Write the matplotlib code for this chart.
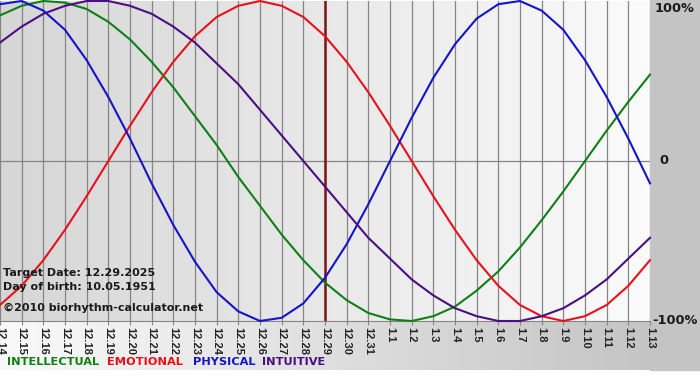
import numpy as np
import matplotlib
matplotlib.use("Agg")
import matplotlib.pyplot as plt

# ── data (one value per day, -1..1) ───────────────────────────────────
days = ["12.14", "12.15", "12.16", "12.17", "12.18", "12.19", "12.20", "12.21",
        "12.22", "12.23", "12.24", "12.25", "12.26", "12.27", "12.28", "12.29",
        "12.30", "12.31", "1.1", "1.2", "1.3", "1.4", "1.5", "1.6", "1.7",
        "1.8", "1.9", "1.10", "1.11", "1.12", "1.13"]

intellectual = [0.91, 0.97, 1.00, 0.99, 0.95, 0.87, 0.76, 0.62, 0.46, 0.28, 0.10,
                -0.10, -0.28, -0.46, -0.62, -0.76, -0.87, -0.95, -0.99, -1.00, -0.97,
                -0.91, -0.81, -0.69, -0.54, -0.37, -0.19, 0.00, 0.19, 0.37, 0.54]
emotional = [-0.90, -0.78, -0.62, -0.43, -0.22, 0.00, 0.22, 0.43, 0.62, 0.78, 0.90,
             0.97, 1.00, 0.97, 0.90, 0.78, 0.62, 0.43, 0.22, 0.00, -0.22,
             -0.43, -0.62, -0.78, -0.90, -0.97, -1.00, -0.97, -0.90, -0.78, -0.62]
physical = [0.98, 1.00, 0.94, 0.82, 0.63, 0.40, 0.14, -0.14, -0.40, -0.63, -0.82,
            -0.94, -1.00, -0.98, -0.89, -0.73, -0.52, -0.27, 0.00, 0.27, 0.52,
            0.73, 0.89, 0.98, 1.00, 0.94, 0.82, 0.63, 0.40, 0.14, -0.14]
intuitive = [0.74, 0.84, 0.92, 0.97, 1.00, 1.00, 0.97, 0.92, 0.84, 0.74, 0.61,
             0.48, 0.32, 0.16, 0.00, -0.16, -0.32, -0.48, -0.61, -0.74, -0.84,
             -0.92, -0.97, -1.00, -1.00, -0.97, -0.92, -0.84, -0.74, -0.61, -0.48]

target_day = "12.29"
info_lines = ["Target Date: 12.29.2025", "Day of birth: 10.05.1951",
              "\u00a92010 biorhythm-calculator.net"]
legend_names = ["INTELLECTUAL", "EMOTIONAL", "PHYSICAL", "INTUITIVE"]
y_labels = ["100%", "0", "-100%"]

# colours
C_INT = "#0f7f14"
C_EMO = "#e8111a"
C_PHY = "#1414c8"
C_ITU = "#4a0f80"

W, H = 700, 380
fig = plt.figure(figsize=(W / 100, H / 100), dpi=100)

# ── background (pixel coordinates) ──────────────────────────────────
bg = fig.add_axes([0, 0, 1, 1])
bg.set_xlim(0, W); bg.set_ylim(H, 0); bg.axis("off")
bg.add_patch(plt.Rectangle((0, 0), W, H, color="white", zorder=0))
bg.add_patch(plt.Rectangle((650, 0), 50, 370, color="#c4c4c4", zorder=1))
grad = np.linspace(0, 1, 256)[None, :]
lo = np.array([0.98, 0.98, 0.98]); hi = np.array([0.77, 0.77, 0.77])
band = lo[None, None, :] + (hi - lo)[None, None, :] * grad[..., None]
bg.imshow(band, extent=[0, 650, 370, 321], aspect="auto", zorder=1)

# ── plot area ────────────────────────────────────────────────────────
x = np.arange(len(days))
ax = fig.add_axes([0, (H - 321) / H, 650 / W, 320 / H])
ax.set_xlim(0, len(days) - 1)
ax.set_ylim(-1, 1)
lo = np.array([0.84, 0.84, 0.84]); hi = np.array([0.985, 0.985, 0.985])
area = lo[None, None, :] + (hi - lo)[None, None, :] * grad[..., None]
ax.imshow(area, extent=[0, len(days) - 1, -1, 1], aspect="auto", zorder=0)

for xi in x:
    ax.axvline(xi, color="#858585", lw=0.9, zorder=1)
ax.axhline(0, color="#858585", lw=0.9, zorder=1)

ax.plot(x, intellectual, color=C_INT, lw=1.5, zorder=3, clip_on=False)
ax.plot(x, emotional, color=C_EMO, lw=1.5, zorder=3, clip_on=False)
ax.plot(x, physical, color=C_PHY, lw=1.5, zorder=3, clip_on=False)
ax.plot(x, intuitive, color=C_ITU, lw=1.5, zorder=3, clip_on=False)

ax.axvline(days.index(target_day), color="#7a1616", lw=1.8, zorder=2)

for side in ["top", "left", "right"]:
    ax.spines[side].set_visible(False)
ax.spines["bottom"].set_color("#858585")
ax.set_yticks([])
ax.set_xticks(x)
ax.set_xticklabels(days, rotation=270, fontsize=8, family="Liberation Sans",
                   fontweight="bold", color="#222222")
ax.tick_params(axis="x", length=3, color="#858585", pad=1)

# ── overlay for texts (pixel coordinates) ───────────────────────────
top = fig.add_axes([0, 0, 1, 1], zorder=10)
top.set_xlim(0, W); top.set_ylim(H, 0); top.axis("off")
top.patch.set_alpha(0)

for lab, xs, yc in zip(y_labels, [655, 659, 652], [8, 161, 321]):
    top.text(xs, yc, lab, ha="left", va="center", fontsize=9.3,
             fontweight="bold", color="#1a1a1a")

for txt, yb in zip(info_lines, [276, 290, 311]):
    top.text(3, yb, txt, fontsize=8, fontweight="bold", color="#1a1a1a",
             va="baseline", ha="left")

for name, col, xs in zip(legend_names, [C_INT, C_EMO, C_PHY, C_ITU],
                         [7, 107, 193, 262]):
    top.text(xs, 365, name, fontsize=8.2, fontweight="bold", color=col,
             va="baseline", ha="left")

fig.savefig("out.png", dpi=100)
